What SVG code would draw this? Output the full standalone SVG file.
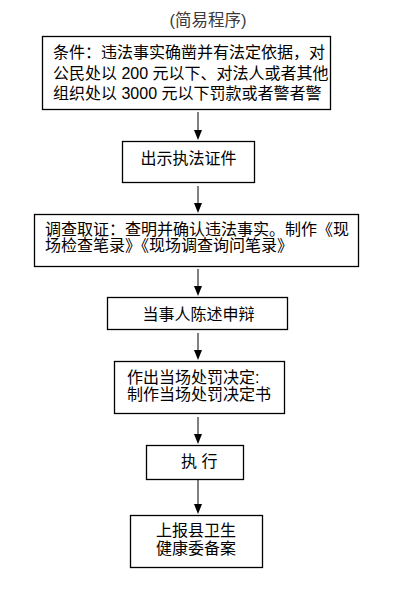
<svg xmlns="http://www.w3.org/2000/svg" width="417" height="601" viewBox="0 0 417 601">
<style>
.box{fill:#fff;stroke:#000;stroke-width:1.3}
.t{font-family:"Liberation Sans","Noto Sans CJK SC",sans-serif;font-size:16px;fill:#000}
.c{text-anchor:middle}
.ttl{font-family:"Liberation Sans","Noto Sans CJK SC",sans-serif;font-size:16.5px;fill:#3a3a3a;text-anchor:middle}
.ln{stroke:#808080;stroke-width:2;fill:none}
</style>
<defs>
<path id="ah" d="M-4,-10 L4,-10 L0,0 Z" fill="#000"/>
</defs>
<text class="ttl" x="208" y="26">(简易程序)</text>
<g id="connectors">
<line class="ln" x1="198" y1="112" x2="198" y2="131"/><use href="#ah" x="198" y="140"/>
<line class="ln" x1="198" y1="186" x2="198" y2="205"/><use href="#ah" x="198" y="213"/>
<line class="ln" x1="198" y1="269" x2="198" y2="288"/><use href="#ah" x="198" y="296"/>
<line class="ln" x1="198" y1="333" x2="198" y2="352"/><use href="#ah" x="198" y="360"/>
<line class="ln" x1="198" y1="417" x2="198" y2="436"/><use href="#ah" x="198" y="444"/>
<line class="ln" x1="198" y1="479" x2="198" y2="506"/><use href="#ah" x="198" y="514"/>
</g>
<g id="n1">
<rect class="box" x="42.5" y="36.5" width="288" height="73"/>
<text class="t" x="53" y="58">条件：违法事实确凿并有法定依据，对</text>
<text class="t" x="53" y="79">公民处以 200 元以下、对法人或者其他</text>
<text class="t" x="53" y="99">组织处以 3000 元以下罚款或者警者警</text>
</g>
<g id="n2">
<rect class="box" x="122.5" y="141.5" width="132" height="41"/>
<text class="t c" x="188.5" y="164">出示执法证件</text>
</g>
<g id="n3">
<rect class="box" x="34.5" y="214.5" width="324" height="52"/>
<text class="t" x="45" y="235">调查取证：查明并确认违法事实。制作《现</text>
<text class="t" x="45" y="251">场检查笔录》《现场调查询问笔录》</text>
</g>
<g id="n4">
<rect class="box" x="107.5" y="297.5" width="180" height="32"/>
<text class="t c" x="198.5" y="320">当事人陈述申辩</text>
</g>
<g id="n5">
<rect class="box" x="114.5" y="361.5" width="170" height="52"/>
<text class="t" x="127" y="383">作出当场处罚决定:</text>
<text class="t" x="127" y="400">制作当场处罚决定书</text>
</g>
<g id="n6">
<rect class="box" x="146.5" y="445.5" width="97" height="34"/>
<text class="t" x="181" y="467">执 行</text>
</g>
<g id="n7">
<rect class="box" x="130.5" y="515.5" width="132" height="52"/>
<text class="t c" x="196" y="536">上报县卫生</text>
<text class="t c" x="196" y="554">健康委备案</text>
</g>
</svg>
